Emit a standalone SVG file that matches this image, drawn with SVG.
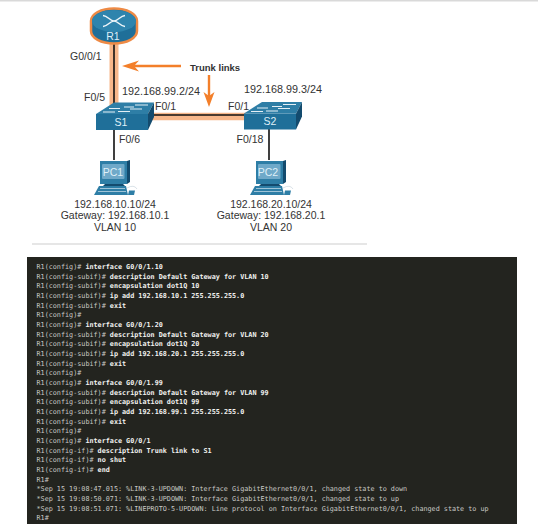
<svg xmlns="http://www.w3.org/2000/svg" width="538" height="531" viewBox="0 0 538 531">
<style>
.l{font-family:"Liberation Sans",Arial,sans-serif;font-size:10.5px;fill:#333}
.b{font-size:10.8px}
.m{text-anchor:middle}
.w{font-family:"Liberation Sans",Arial,sans-serif;font-size:10.5px;fill:#dff0f8;text-anchor:middle}
.t{font-family:"DejaVu Sans Mono",monospace;font-size:6.78px;fill:#c9c9c5}
.t tspan{font-weight:bold;fill:#f2f2f0}
.top{fill:#2e7ea6}.front{fill:#1f6f99}.side{fill:#134b6e}
</style>
<defs>
<g id="pc">
<path class="side" d="M14 -15L17 -16L17 6L14 8Z"/>
<path class="top" d="M-13 -15L14 -15L14 8L-13 8Z"/>
<rect x="-11" y="-12" width="22.500" height="15" rx="1" fill="#6fa9c9"/>
<path class="side" d="M-8 8L10 8L12 10L-10 10Z"/>
<path class="top" d="M-14 10L13 10L15 19L-19 19Z"/>
<path d="M-13 12.500L12 12.500M-15 15.500L13 15.500" stroke="#cfe3ee" stroke-width=".7"/>
<path class="top" d="M16 14.500L22 14.500L21 19L15 19Z"/>
<path d="M14 12Q21 8 24 13" fill="none" stroke="#c8d6de" stroke-width=".7"/>
</g>
<g id="sw">
<path class="front" d="M-26 0L26 0L26 16L-26 16Z"/>
<path class="top" d="M-26 0L-8 -11.500L32 -11.500L26 0Z"/>
<path class="side" d="M26 0L32 -11.500L32 3L26 16Z"/>
<path d="M-19 -2H-7M-13 -5.500H-2M-4 -2.500H8M2 -7H12M8 -5H20M13 -9H26" stroke="#e4eff5" stroke-width="1.100"/>
</g>
</defs>
<rect x="0" y="0" width="538" height="1.500" fill="#d9d9d9"/>
<rect x="32" y="243" width="335" height="2" fill="#e6e6e6"/>
<g id="connectors">
<path d="M114 40V112" fill="none" stroke="#f6b68a" stroke-width="9"/>
<path d="M148 116.500H246" fill="none" stroke="#f6b68a" stroke-width="7.500"/>
<path d="M114 40V106" fill="none" stroke="#111" stroke-width="1.600"/>
<path d="M150 115H246" fill="none" stroke="#111" stroke-width="1.600"/>
<path d="M114 130V160M269 129V160" fill="none" stroke="#111" stroke-width="1.600"/>
<path d="M181 66H128" fill="none" stroke="#f37f2a" stroke-width="2.400"/>
<path d="M122 66L139 60.500L134 66L139 71.500Z" fill="#f37f2a"/>
<path d="M209 75V101" fill="none" stroke="#f37f2a" stroke-width="2.400"/>
<path d="M209 107L203.500 92L209 96L214.500 92Z" fill="#f37f2a"/>
</g>
<g id="R1">
<path d="M91 21V31C91 38 101 43.500 114 43.500C127 43.500 137 38 137 31V21C137 14 127 8.500 114 8.500C101 8.500 91 14 91 21Z" fill="#1f6f99" stroke="#ee8a45" stroke-width="2.500"/>
<ellipse cx="114" cy="21" rx="22" ry="11" fill="#2e84ad"/>
<path d="M103 15.500C108 16 110 21 114 21C118 21 120 26 125 26.500M125 15.500C120 16 118 21 114 21C110 21 108 26 103 26.500" fill="none" stroke="#eef5f9" stroke-width="1.500"/>
<text class="w" x="113" y="40">R1</text>
</g>
<g id="S1"><use href="#sw" x="122" y="114"/><text class="w" x="121" y="126">S1</text></g>
<g id="S2"><use href="#sw" x="270" y="113.500"/><text class="w" x="270" y="125">S2</text></g>
<g id="PC1"><use href="#pc" x="113" y="176"/><text class="w" x="113" y="176">PC1</text></g>
<g id="PC2"><use href="#pc" x="269" y="176"/><text class="w" x="268" y="176">PC2</text></g>
<g id="labels">
<text class="l" x="70" y="60">G0/0/1</text>
<text class="l" x="84" y="101">F0/5</text>
<text class="l b" x="122" y="95">192.168.99.2/24</text>
<text class="l" x="155" y="110">F0/1</text>
<text class="l" x="228" y="110">F0/1</text>
<text class="l b" x="244" y="93">192.168.99.3/24</text>
<text x="190" y="71" style="font-family:'Liberation Sans',Arial,sans-serif;font-size:9.500px;font-weight:bold;fill:#333">Trunk links</text>
<text class="l" x="119" y="143">F0/6</text>
<text class="l" x="236.500" y="143">F0/18</text>
<text class="l m" x="115" y="208">192.168.10.10/24</text>
<text class="l m" x="115" y="219">Gateway: 192.168.10.1</text>
<text class="l m" x="115" y="231">VLAN 10</text>
<text class="l m" x="271" y="208">192.168.20.10/24</text>
<text class="l m" x="271" y="219">Gateway: 192.168.20.1</text>
<text class="l m" x="271" y="231">VLAN 20</text>
</g>
<g id="terminal">
<rect x="27" y="257" width="490" height="267" fill="#23241f"/>
<g transform="translate(0 1)">
<text class="t" x="36.500" y="268">R1(config)# <tspan>interface G0/0/1.10</tspan></text>
<text class="t" x="36.500" y="277.700">R1(config-subif)# <tspan>description Default Gateway for VLAN 10</tspan></text>
<text class="t" x="36.500" y="287.300">R1(config-subif)# <tspan>encapsulation dot1Q 10</tspan></text>
<text class="t" x="36.500" y="297">R1(config-subif)# <tspan>ip add 192.168.10.1 255.255.255.0</tspan></text>
<text class="t" x="36.500" y="306.700">R1(config-subif)# <tspan>exit</tspan></text>
<text class="t" x="36.500" y="316.300">R1(config)#</text>
<text class="t" x="36.500" y="326">R1(config)# <tspan>interface G0/0/1.20</tspan></text>
<text class="t" x="36.500" y="335.700">R1(config-subif)# <tspan>description Default Gateway for VLAN 20</tspan></text>
<text class="t" x="36.500" y="345.300">R1(config-subif)# <tspan>encapsulation dot1Q 20</tspan></text>
<text class="t" x="36.500" y="355">R1(config-subif)# <tspan>ip add 192.168.20.1 255.255.255.0</tspan></text>
<text class="t" x="36.500" y="364.700">R1(config-subif)# <tspan>exit</tspan></text>
<text class="t" x="36.500" y="374.300">R1(config)#</text>
<text class="t" x="36.500" y="384">R1(config)# <tspan>interface G0/0/1.99</tspan></text>
<text class="t" x="36.500" y="393.700">R1(config-subif)# <tspan>description Default Gateway for VLAN 99</tspan></text>
<text class="t" x="36.500" y="403.300">R1(config-subif)# <tspan>encapsulation dot1Q 99</tspan></text>
<text class="t" x="36.500" y="413">R1(config-subif)# <tspan>ip add 192.168.99.1 255.255.255.0</tspan></text>
<text class="t" x="36.500" y="422.700">R1(config-subif)# <tspan>exit</tspan></text>
<text class="t" x="36.500" y="432.300">R1(config)#</text>
<text class="t" x="36.500" y="442">R1(config)# <tspan>interface G0/0/1</tspan></text>
<text class="t" x="36.500" y="451.700">R1(config-if)# <tspan>description Trunk link to S1</tspan></text>
<text class="t" x="36.500" y="461.300">R1(config-if)# <tspan>no shut</tspan></text>
<text class="t" x="36.500" y="471">R1(config-if)# <tspan>end</tspan></text>
<text class="t" x="36.500" y="480.700">R1#</text>
<text class="t" x="36.500" y="490.300">*Sep 15 19:08:47.015: %LINK-3-UPDOWN: Interface GigabitEthernet0/0/1, changed state to down</text>
<text class="t" x="36.500" y="500">*Sep 15 19:08:50.071: %LINK-3-UPDOWN: Interface GigabitEthernet0/0/1, changed state to up</text>
<text class="t" x="36.500" y="509.700">*Sep 15 19:08:51.071: %LINEPROTO-5-UPDOWN: Line protocol on Interface GigabitEthernet0/0/1, changed state to up</text>
<text class="t" x="36.500" y="519.300">R1#</text>
</g>
</g>
</svg>
